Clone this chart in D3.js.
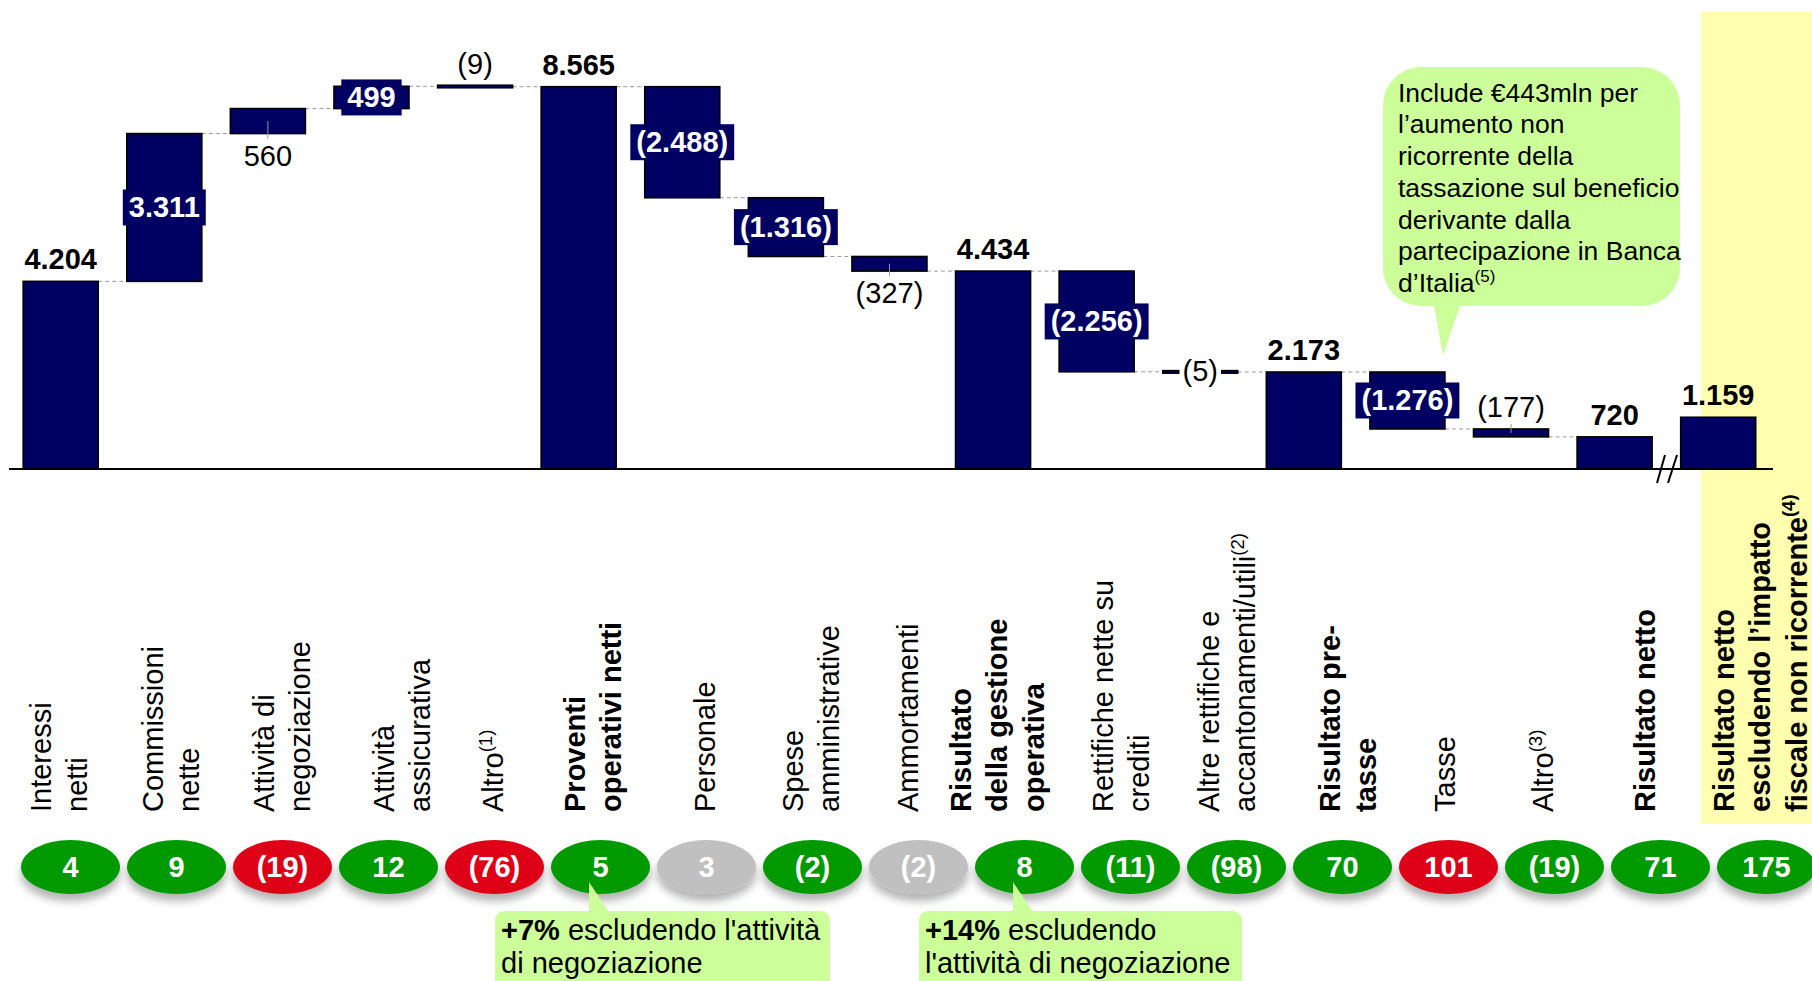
<!DOCTYPE html>
<html><head><meta charset="utf-8">
<script src="https://cdn.jsdelivr.net/npm/d3@7"></script>
<style>
html,body{margin:0;padding:0;background:#fff;}
svg{display:block;font-family:"Liberation Sans",Arial,Helvetica,sans-serif;}
</style></head><body>
<svg id="chart" width="1812" height="981"></svg>
<script>
// ---------------- DATA ----------------
const categories = ["interessi","commissioni","negoziazione","assicurativa","altro1","proventi","personale","spese","ammortamenti","gestione","rettifiche","altre","pretasse","tasse","altro3","netto","nettoEscl"];
const categoryLines = [
  ["Interessi","netti"],
  ["Commissioni","nette"],
  ["Attività di","negoziazione"],
  ["Attività","assicurativa"],
  ["Altro^(1)"],
  ["Proventi","operativi netti"],
  ["Personale"],
  ["Spese","amministrative"],
  ["Ammortamenti"],
  ["Risultato","della gestione","operativa"],
  ["Rettifiche nette su","crediti"],
  ["Altre rettifiche e","accantonamenti/utili^(2)"],
  ["Risultato pre-","tasse"],
  ["Tasse"],
  ["Altro^(3)"],
  ["Risultato netto"],
  ["Risultato netto","escludendo l’impatto","fiscale non ricorrente^(4)"]
];
const barKinds = ["total","delta","delta","delta","delta","total","delta","delta","delta","total","delta","delta","total","delta","delta","total","total"];
const barValues = [4204, 3311, 560, 499, -9, 8565, -2488, -1316, -327, 4434, -2256, -5, 2173, -1276, -177, 720, 1159];
const valueLabels = ["4.204","3.311","560","499","(9)","8.565","(2.488)","(1.316)","(327)","4.434","(2.256)","(5)","2.173","(1.276)","(177)","720","1.159"];
const changeLabels = ["4","9","(19)","12","(76)","5","3","(2)","(2)","8","(11)","(98)","70","101","(19)","71","175"];
const changeStatus = ["pos","pos","neg","pos","neg","pos","neutral","pos","neutral","pos","pos","pos","pos","neg","pos","pos","pos"];
const calloutTaxLines = ["Include €443mln per","l’aumento non","ricorrente della","tassazione sul beneficio","derivante dalla","partecipazione in Banca","d’Italia^(5)"];
const calloutOpLines = [["+7%"," escludendo l'attività"],["","di negoziazione"]];
const calloutGestLines = [["+14%"," escludendo"],["","l'attività di negoziazione"]];

// ---------------- LAYOUT ----------------
const W = 1812, H = 981;
const baseY = 469;
const labelPlacement = ["top","box","below","box","above","top","box","box","below","top","box","on","top","box","above","top","top"];
const leaderTicks = [2, 8, 14];
const labelShift = [-10,-4,1,15,0,-6,0,0,-9,-26,-8,-8,7,-2,-10,-14,-5];
const boldCats = new Set(["proventi","gestione","pretasse","netto","nettoEscl"]);
const statusColor = {pos:"#009900", neg:"#DD0018", neutral:"#C0C0C0"};
const NAVY = "#000062";
const FONT = 29;

const svg = d3.select("#chart");
const defs = svg.append("defs");
const f = defs.append("filter").attr("id","sh").attr("x","-30%").attr("y","-30%").attr("width","160%").attr("height","190%");
f.append("feDropShadow").attr("dx",0).attr("dy",7).attr("stdDeviation",4).attr("flood-color","#000").attr("flood-opacity",0.3);

const y = d3.scaleLinear().domain([0, 8565]).range([baseY, 86.7]);
const x = d3.scaleBand().domain(categories).range([8.9, 1770]).paddingInner(0.276).paddingOuter(0.138);
const xp = d3.scalePoint().domain(categories).range([70.5, 1766.5]);

// yellow highlight
svg.append("rect").attr("x",1701).attr("y",12).attr("width",W-1701).attr("height",824-12).attr("fill","#FFFFAF");

// compute waterfall
let run = 0;
const bars = barValues.map((v,i) => {
  let a, b;
  if (barKinds[i] === "total") { a = 0; b = v; run = v; }
  else { a = run; b = run + v; run = b; }
  return {i, cat: categories[i], v, lo: Math.min(a,b), hi: Math.max(a,b), end: run};
});

// connectors
const conn = svg.append("g").attr("stroke","#9a9a9a").attr("stroke-width",1).attr("stroke-dasharray","4,3");
for (let i = 0; i < bars.length - 1; i++) {
  if (i === 15) continue; // axis break before last bar
  const b = bars[i], n = bars[i+1];
  conn.append("line")
    .attr("x1", x(b.cat) + x.bandwidth()).attr("x2", x(n.cat))
    .attr("y1", y(b.end)).attr("y2", y(b.end));
}

// bars
svg.append("g").selectAll("rect").data(bars).join("rect")
  .attr("x", d => x(d.cat))
  .attr("width", x.bandwidth())
  .attr("y", d => { const h = Math.max(y(d.lo) - y(d.hi), 2.5); return (y(d.lo)+y(d.hi))/2 - h/2; })
  .attr("height", d => Math.max(y(d.lo) - y(d.hi), 2.5))
  .attr("fill", NAVY).attr("stroke","#000").attr("stroke-width",1.6);

// leader ticks
leaderTicks.forEach(i => {
  const d = bars[i], cx = x(d.cat) + x.bandwidth()/2, mid = (y(d.lo)+y(d.hi))/2;
  const end = labelPlacement[i] === "below" ? y(d.lo) + 5 : y(d.hi) - 5;
  svg.append("line").attr("x1",cx).attr("x2",cx).attr("y1",mid).attr("y2",end).attr("stroke","#9a9a9a").attr("stroke-width",1);
});

// value labels
const vl = svg.append("g");
bars.forEach(d => {
  const cx = x(d.cat) + x.bandwidth()/2, mid = (y(d.lo)+y(d.hi))/2;
  const p = labelPlacement[d.i], txt = valueLabels[d.i];
  if (p === "top") {
    vl.append("text").attr("x",cx).attr("y",y(d.hi)-12).attr("text-anchor","middle")
      .attr("font-size",FONT).attr("font-weight","bold").attr("fill","#000").text(txt);
  } else if (p === "box") {
    const r = vl.append("rect").attr("fill",NAVY);
    const t = vl.append("text").attr("x",cx).attr("y",mid+10).attr("text-anchor","middle")
      .attr("font-size",FONT).attr("font-weight","bold").attr("fill","#fff").text(txt);
    const w = t.node().getComputedTextLength() + 12;
    r.attr("x",cx-w/2).attr("width",w).attr("y",mid-18).attr("height",36);
  } else if (p === "below") {
    vl.append("text").attr("x",cx).attr("y",y(d.lo)+32).attr("text-anchor","middle")
      .attr("font-size",FONT).attr("fill","#000").text(txt);
  } else if (p === "above") {
    vl.append("text").attr("x",cx).attr("y",y(d.hi)-12).attr("text-anchor","middle")
      .attr("font-size",FONT).attr("fill","#000").text(txt);
  } else if (p === "on") {
    const r = vl.append("rect").attr("fill","#fff");
    const t = vl.append("text").attr("x",cx).attr("y",mid+9.5).attr("text-anchor","middle")
      .attr("font-size",FONT).attr("fill","#000").text(txt);
    const w = t.node().getComputedTextLength() + 6;
    r.attr("x",cx-w/2).attr("width",w).attr("y",mid-14).attr("height",28);
  }
});

// axis line and break
svg.append("line").attr("x1",9).attr("x2",1773).attr("y1",baseY).attr("y2",baseY).attr("stroke","#000").attr("stroke-width",2);
[[1657,1665],[1668,1677]].forEach(([a,b]) => {
  svg.append("line").attr("x1",a).attr("y1",483).attr("x2",b).attr("y2",455).attr("stroke","#000").attr("stroke-width",2);
});

// helper: text with superscript marker "^"
function addRich(sel, str, size) {
  const parts = str.split("^");
  sel.append("tspan").text(parts[0]);
  if (parts[1]) {
    sel.append("tspan").attr("dy", -size*0.38).attr("font-size", size*0.64).text(parts[1]);
  }
}

// category labels (rotated)
const cl = svg.append("g");
categories.forEach((c,i) => {
  const lines = categoryLines[i], n = lines.length;
  lines.forEach((ln,j) => {
    const cx = xp(c) + labelShift[i] + (j - (n-1)/2) * 36.5;
    const t = cl.append("text")
      .attr("transform", `translate(${cx + 8.5},812) rotate(-90)`)
      .attr("font-size", FONT)
      .attr("font-weight", boldCats.has(c) ? "bold" : "normal")
      .attr("fill","#000");
    addRich(t, ln, FONT);
  });
});

// change ellipses
const eg = svg.append("g");
categories.forEach((c,i) => {
  eg.append("ellipse").attr("cx",xp(c)).attr("cy",867).attr("rx",49.5).attr("ry",27)
    .attr("fill", statusColor[changeStatus[i]]).attr("filter","url(#sh)");
});
categories.forEach((c,i) => {
  eg.append("text").attr("x",xp(c)).attr("y",877).attr("text-anchor","middle")
    .attr("font-size",FONT).attr("font-weight","bold").attr("fill","#fff").text(changeLabels[i]);
});

// callouts
const CG = "#CCFF99";
function bottomCallout(x0, w, apexX, lines) {
  const g = svg.append("g");
  g.append("rect").attr("x",x0).attr("y",911).attr("width",w).attr("height",110).attr("rx",9).attr("fill",CG);
  g.append("polygon").attr("points",`${apexX},882 ${apexX},915 ${apexX+22},915`).attr("fill",CG);
  lines.forEach((ln,j) => {
    const t = g.append("text").attr("x",x0+6).attr("y",940 + j*33).attr("font-size",FONT).attr("fill","#000");
    if (ln[0]) t.append("tspan").attr("font-weight","bold").text(ln[0]);
    t.append("tspan").text(ln[1]);
  });
}
bottomCallout(495, 335, 589, calloutOpLines);
bottomCallout(919, 323, 1013, calloutGestLines);

const tg = svg.append("g");
tg.append("rect").attr("x",1383).attr("y",67).attr("width",297).attr("height",239).attr("rx",38).attr("fill",CG);
tg.append("polygon").attr("points","1433,300 1462,300 1443,355").attr("fill",CG);
calloutTaxLines.forEach((ln,j) => {
  const t = tg.append("text").attr("x",1398).attr("y",101.7 + j*31.7).attr("font-size",26.5).attr("fill","#000");
  addRich(t, ln, 26.5);
});
</script>
</body></html>
